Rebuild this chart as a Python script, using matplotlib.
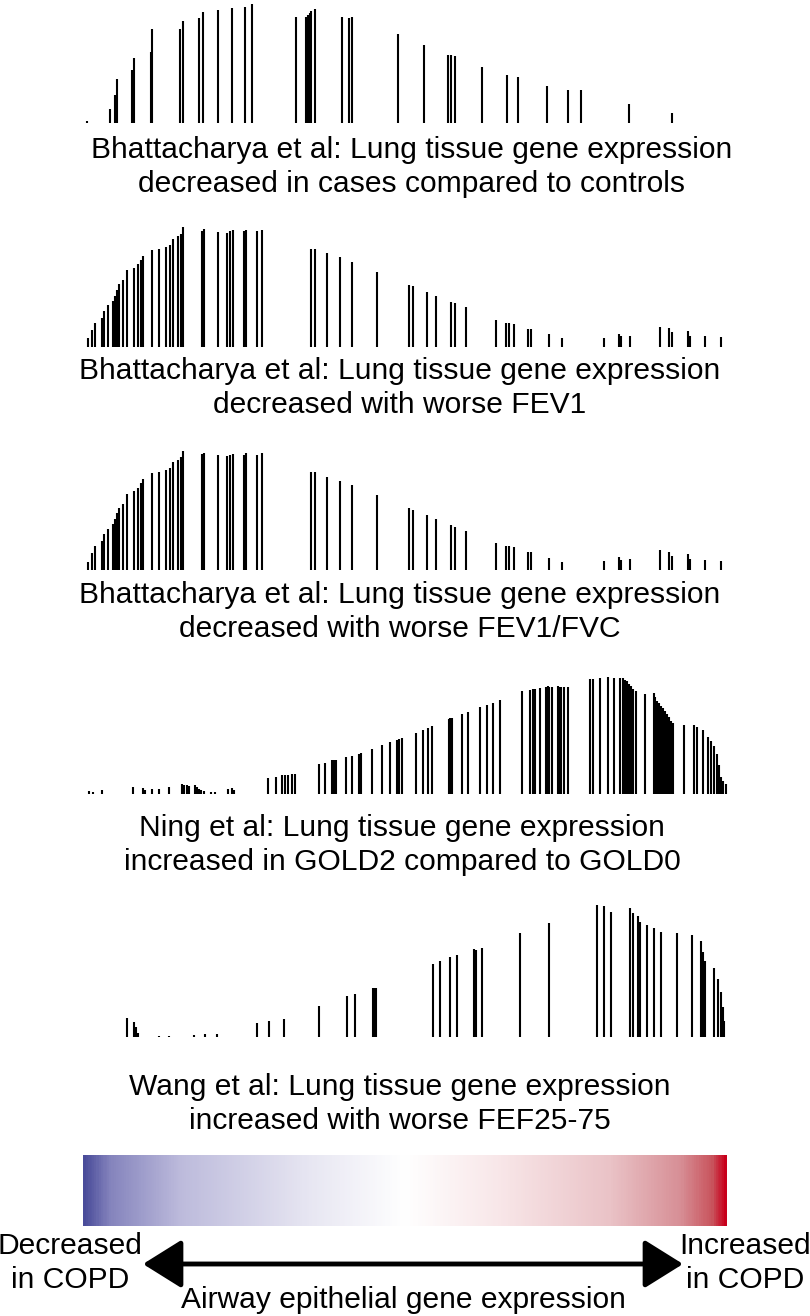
import numpy as np
import matplotlib
matplotlib.use("Agg")
import matplotlib.pyplot as plt
from matplotlib.colors import LinearSegmentedColormap

plt.rcParams['font.family'] = ['Liberation Sans', 'DejaVu Sans']

W, H = 810, 1316

# gene rank positions (x) and enrichment heights for each study
bhat_cases_x = [87.3, 110, 115.3, 117, 131.7, 134.3, 150.7, 152, 180.3, 183.3, 198.7, 203.3,
                218, 232, 245, 252, 296, 306, 308, 310, 311.3, 314.7, 342, 349, 352.3,
                398, 424.3, 448, 451.3, 455.3, 482, 506.7, 517.7, 546.7, 568.3, 580.7,
                629.3, 671.7]
bhat_cases_h = [2, 14, 28, 44, 53, 65, 71, 94, 94, 102, 105, 111,
                113, 115, 116, 119, 106, 106, 108, 110, 112, 114, 106, 105, 106,
                89, 78, 68, 68, 67, 56, 48, 46, 37, 33, 33,
                19, 10]

bhat_fev1_x = [88, 91.7, 95.3, 102.3, 104, 108, 113.3, 114.7, 116.7, 118.7, 122.7, 126.7,
               134.3, 138.3, 141, 143.3, 152, 159.3, 165.7, 170, 173, 177.7, 180.7, 183.3,
               202, 204, 218.3, 226.7, 230, 233.3, 244, 246, 257.3, 262,
               311, 315, 326.7, 339.7, 352.3, 377,
               409, 413.3, 426.7, 435.7, 450.7, 455.3, 466, 496, 506.3, 508.7, 514.3,
               528, 531, 548.7, 561.7, 603.7, 618.7, 620.7, 630.3, 660, 669, 671.7,
               688.3, 690.3, 705, 720.7]
bhat_fev1_h = [8.3, 16.7, 24, 29, 35.7, 41.3, 45.7, 50.7, 56.7, 62.3, 66.3, 76.3,
               79, 82.3, 86.7, 90.7, 96.7, 98, 99.7, 101.7, 108, 110.3, 112.7, 119.3,
               115.7, 117.3, 115, 114, 115.3, 116.3, 115.3, 116.7, 115.3, 116.7,
               97.7, 97.7, 93.3, 89.3, 85, 75,
               61.7, 60.3, 54.7, 51, 44.7, 43.3, 39.3, 27, 23.7, 23.7, 22.7,
               18, 18, 12.3, 8.3, 9, 12.7, 10.3, 10.7, 19.7, 18.3, 14.3,
               16, 10.7, 10.3, 9.3]

bhat_ratio_x = [88, 91.7, 95.3, 102.3, 104, 108, 113.3, 114.7, 116.7, 118.7, 122.7, 126.7,
                134.3, 138.3, 141, 143.3, 152, 159.3, 165.7, 170, 173, 177.7, 180.7, 183.3,
                202, 204, 218.3, 226.7, 230, 233.3, 244, 246, 257.3, 262,
                311, 315, 326.7, 339.7, 352.3, 377,
                409, 413.3, 426.7, 435.7, 450.7, 455.3, 466, 496, 506.3, 508.7, 514.3,
                528, 531, 548.7, 561.7, 603.7, 618.7, 620.7, 630.3, 660, 669, 671.7,
                688.3, 690.3, 705, 720.7]
bhat_ratio_h = [8.3, 16.7, 24, 29, 35.7, 41.3, 45.7, 50.7, 56.7, 62.3, 66.3, 76.3,
                79, 82.3, 86.7, 90.7, 96.7, 98, 99.7, 101.7, 108, 110.3, 112.7, 119.3,
                115.7, 117.3, 115, 114, 115.3, 116.3, 115.3, 116.7, 115.3, 116.7,
                97.7, 97.7, 93.3, 89.3, 85, 75,
                61.7, 60.3, 54.7, 51, 44.7, 43.3, 39.3, 27, 23.7, 23.7, 22.7,
                18, 18, 12.3, 8.3, 9, 12.7, 10.3, 10.7, 19.7, 18.3, 14.3,
                16, 10.7, 10.3, 9.3]

ning_x = [89.3, 93.3, 102, 132.7, 142.7, 145, 152.3, 159, 168.7, 182, 183.7, 186.7, 189,
          195.3, 197, 199, 201.3, 203.7, 211, 215, 227.7, 232, 233.7,
          268.3, 276, 282.3, 285.3, 288.3, 291.7, 294.7,
          319, 325.3, 332.3, 334, 336, 345.7, 351.7, 359, 361, 372, 381.7, 390.3, 397,
          399.3, 401.7, 416, 422.7, 427.7, 432.3, 449, 450.3, 452.3, 461.7, 468.3,
          480, 487.3, 493.3, 500, 522, 529.7, 532.7, 535, 540.3, 546, 547.7, 549.3,
          551.7, 557.7, 559.3, 561.3, 563.7, 568, 589.7, 593.3, 600, 608, 613.7, 620,
          623.3, 625.3, 627.3, 629.3, 631.3, 633.3, 636, 645, 654, 655.3, 657.3, 659.3,
          661.3, 663.3, 665.3, 667.3, 669.3, 671.3, 672.7, 684.3, 693.7, 696.7, 703,
          708.3, 711.3, 714.3, 716.7, 719, 721, 723.3, 725.7]
ning_h = [3, 2.3, 4.3, 7, 6.3, 4.3, 5.3, 5.3, 7, 10, 9.3, 8.7, 8,
          8.7, 7, 5.3, 3.7, 2.7, 1.7, 1.7, 5, 6.3, 4,
          16.3, 17.3, 18.7, 19, 19.3, 19.7, 19.7,
          29.7, 31.3, 33.7, 34, 34, 37, 38.3, 40.3, 40.7, 45, 48.7, 52, 54.3,
          55.3, 55.7, 61.3, 64, 66, 68, 75.3, 75.7, 76, 79.7, 82,
          87.3, 89.3, 91.3, 94, 102.7, 104.3, 104.7, 105.3, 106.3, 107.3, 107.7, 107.3,
          107, 107.7, 107.3, 107, 106.7, 106.7, 115, 115.3, 115.7, 117, 116.3, 116.3,
          115.7, 114, 112.7, 110, 107.7, 105.3, 103.3, 100, 101.3, 96.7, 92.7, 90.7,
          88.3, 86, 83.3, 80, 76.7, 73.3, 70.7, 69.3, 69.3, 67.3, 64,
          56.7, 53.3, 48.3, 40, 29.3, 16.7, 13.3, 10]

wang_x = [126.7, 134.3, 136, 137.7, 158.7, 168.7, 194.3, 205, 216.7, 256.7, 269.3, 284,
          318.7, 347.3, 354.7, 372.7, 374.3, 376,
          433.3, 440.3, 450, 457, 473.7, 475.7, 482.3, 520, 548.7, 596.7, 604, 611.3,
          630, 632.7, 638.3, 640, 646.7, 653.7, 661.3, 676.7, 692, 701, 702.7, 704.7,
          713.7, 718, 720.7, 722.7, 723.7]
wang_h = [19.7, 15, 10, 4, 1.3, 1.3, 2.7, 3, 3, 14, 16, 18.7,
          31.3, 41.3, 43.3, 49.7, 49.7, 49.7,
          73.7, 76, 80, 82.3, 88.7, 87.7, 89, 104.3, 114.7, 132.3, 131.7, 125.3,
          129, 124.7, 121, 115.7, 112.3, 109, 105.7, 104.7, 102.7, 96.7, 85.7, 76.7,
          69, 58, 45.3, 30.7, 16.7]

panels = [
    (bhat_cases_x, bhat_cases_h, 123.3,
     "Bhattacharya et al: Lung tissue gene expression\ndecreased in cases compared to controls", 412, 167),
    (bhat_fev1_x, bhat_fev1_h, 346.7,
     "Bhattacharya et al: Lung tissue gene expression\ndecreased with worse FEV1", 400, 388),
    (bhat_ratio_x, bhat_ratio_h, 570,
     "Bhattacharya et al: Lung tissue gene expression\ndecreased with worse FEV1/FVC", 400, 612),
    (ning_x, ning_h, 794,
     "Ning et al: Lung tissue gene expression\nincreased in GOLD2 compared to GOLD0", 402, 845),
    (wang_x, wang_h, 1037.3,
     "Wang et al: Lung tissue gene expression\nincreased with worse FEF25-75", 400, 1104),
]

FS = 21.6
LS = 1.27

fig = plt.figure(figsize=(W / 100, H / 100), dpi=100)

for xs, hs, base, caption, cx, cy in panels:
    top = 140
    ax = fig.add_axes([0, 1 - base / H, 1, top / H])
    ax.vlines(xs, 0, hs, color='black', lw=1.5)
    ax.set_xlim(0, W)
    ax.set_ylim(0, top)
    ax.axis('off')
    fig.text(cx / W, 1 - cy / H, caption, ha='center', va='center',
             multialignment='center', fontsize=FS, linespacing=LS)

# colour scale bar
cmap = LinearSegmentedColormap.from_list('copd', [
    (0.0, '#4a4c9a'), (0.04, '#8584bd'), (0.15, '#bdbbdc'), (0.35, '#e7e6f2'),
    (0.5, '#ffffff'), (0.65, '#f8e6e8'), (0.82, '#eac3c7'), (0.93, '#d78f96'),
    (0.98, '#c9545d'), (1.0, '#c8001c')])
cax = fig.add_axes([83 / W, 1 - 1226 / H, 644 / W, 71 / H])
cax.imshow(np.linspace(0, 1, 600)[None, :], aspect='auto', cmap=cmap,
           extent=[0, 1, 0, 1])
cax.axis('off')

fig.text(70 / W, 1 - 1263 / H, "Decreased\nin COPD", ha='center', va='center',
         fontsize=FS, linespacing=LS)
fig.text(745 / W, 1 - 1263 / H, "Increased\nin COPD", ha='center', va='center',
         fontsize=FS, linespacing=LS)
fig.text(403 / W, 1 - 1300 / H, "Airway epithelial gene expression", ha='center',
         va='center', fontsize=FS)

# double-headed arrow on an overlay axes
aax = fig.add_axes([0, 0, 1, 1])
aax.set_xlim(0, W)
aax.set_ylim(H, 0)
aax.axis('off')
aax.annotate('', xy=(143, 1264), xytext=(683, 1264),
             arrowprops=dict(arrowstyle='<|-|>,head_length=1.2,head_width=0.75',
                             color='black', lw=3.5, shrinkA=0, shrinkB=0,
                             mutation_scale=20))

fig.savefig('out.png', dpi=100)
